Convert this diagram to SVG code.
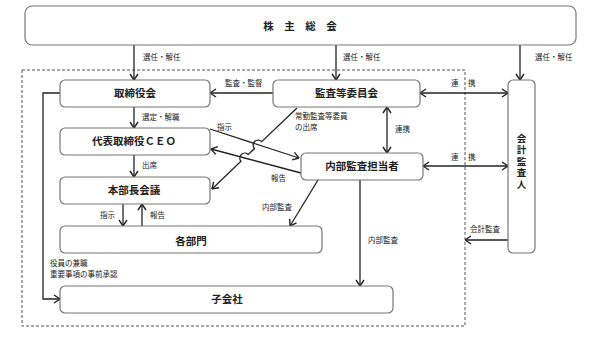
<svg xmlns="http://www.w3.org/2000/svg" width="595" height="338" viewBox="0 0 595 338">
<defs>
<marker id="ah" viewBox="0 0 10 10" refX="9.5" refY="5" markerWidth="10" markerHeight="10" markerUnits="userSpaceOnUse" orient="auto-start-reverse">
<path d="M3.5,1 L9.5,5 L3.5,9" fill="none" stroke="#222" stroke-width="1.4"/>
</marker>
</defs>
<style>
.box{fill:#fff;stroke:#777;stroke-width:1.2}
.nt{font-family:"Noto Sans CJK JP","Noto Sans",sans-serif;font-size:10.5px;font-weight:bold;fill:#222;text-anchor:middle}
.vt{font-family:"Noto Sans CJK JP","Noto Sans",sans-serif;font-size:9.5px;font-weight:bold;fill:#222;text-anchor:middle;writing-mode:vertical-rl;letter-spacing:2px}
.lb{font-family:"Noto Sans CJK JP","Noto Sans",sans-serif;font-size:7.5px;fill:#222}
.c{fill:none;stroke:#222;stroke-width:1.3}
.a{marker-end:url(#ah)}
.b{marker-start:url(#ah);marker-end:url(#ah)}
</style>
<rect width="595" height="338" fill="#fff"/>
<rect x="22" y="70" width="443" height="256" fill="none" stroke="#555" stroke-width="1" stroke-dasharray="3,2"/>

<g id="connectors">
<path class="c a" d="M134,45 V80"/>
<path class="c a" d="M336,45 V80"/>
<path class="c a" d="M520,45 V80"/>
<path class="c a" d="M273,93 H210"/>
<path class="c b" d="M420,93 H508"/>
<path class="c a" d="M134,107 V128"/>
<path class="c a" d="M134,155 V177"/>
<path class="c a" d="M123,204 V226"/>
<path class="c a" d="M142,226 V204"/>
<path class="c b" d="M387,107 V153"/>
<path class="c b" d="M423,166 H508"/>
<path class="c a" d="M508,240 H465"/>
<path class="c a" d="M360,180 V286"/>
<path class="c a" d="M318,180 L290,226"/>
<path class="c a" d="M60,93 H43 V299 H60"/>
<path class="c a" d="M210,129 L299,158"/>
<path class="c a" d="M301,173 L211,149"/>
<path class="c a" d="M297,108 L261.7,141.6 A5,5 0 0 0 254.5,148.6 L248.2,154.4 A5,5 0 0 0 241,161.3 L212,189"/>
</g>

<g id="labels">
<text class="lb" x="143" y="60">選任・解任</text>
<text class="lb" x="343" y="60">選任・解任</text>
<text class="lb" x="535" y="60">選任・解任</text>
<text class="lb" x="225" y="86">監査・監督</text>
<text class="lb" x="451" y="86" letter-spacing="1">連　携</text>
<text class="lb" x="451" y="160" letter-spacing="1">連　携</text>
<text class="lb" x="395" y="132">連携</text>
<text class="lb" x="470" y="232">会計監査</text>
<text class="lb" x="368" y="243">内部監査</text>
<text class="lb" x="262" y="210">内部監査</text>
<text class="lb" x="271" y="181">報告</text>
<text class="lb" x="217" y="130">指示</text>
<text class="lb" x="295" y="119">常勤監査等委員</text>
<text class="lb" x="295" y="130">の出席</text>
<text class="lb" x="142" y="120">選定・解職</text>
<text class="lb" x="142" y="168">出席</text>
<text class="lb" x="100" y="218">指示</text>
<text class="lb" x="150" y="218">報告</text>
<text class="lb" x="50" y="266">役員の兼職</text>
<text class="lb" x="50" y="277">重要事項の事前承認</text>
</g>

<g id="shareholders">
<rect class="box" x="25" y="6" width="551" height="39" rx="7"/>
<text class="nt" x="300" y="30">株　主　総　会</text>
</g>
<g id="board">
<rect class="box" x="60" y="80" width="150" height="27" rx="5"/>
<text class="nt" x="135" y="97">取締役会</text>
</g>
<g id="ceo">
<rect class="box" x="60" y="128" width="150" height="27" rx="5"/>
<text class="nt" x="134" y="145">代表取締役ＣＥＯ</text>
</g>
<g id="hq-meeting">
<rect class="box" x="60" y="177" width="150" height="27" rx="5"/>
<text class="nt" x="134" y="194">本部長会議</text>
</g>
<g id="departments">
<rect class="box" x="60" y="226" width="262" height="27" rx="5"/>
<text class="nt" x="191" y="244.5">各部門</text>
</g>
<g id="subsidiaries">
<rect class="box" x="60" y="286" width="333" height="27" rx="5"/>
<text class="nt" x="227" y="303">子会社</text>
</g>
<g id="audit-committee">
<rect class="box" x="273" y="80" width="147" height="27" rx="5"/>
<text class="nt" x="346.5" y="97">監査等委員会</text>
</g>
<g id="internal-audit">
<rect class="box" x="301" y="153" width="122" height="27" rx="5"/>
<text class="nt" x="362" y="170">内部監査担当者</text>
</g>
<g id="accounting-auditor">
<rect class="box" x="508" y="80" width="27" height="173" rx="5"/>
<text class="vt" x="521.5" y="162">会計監査人</text>
</g>
</svg>
